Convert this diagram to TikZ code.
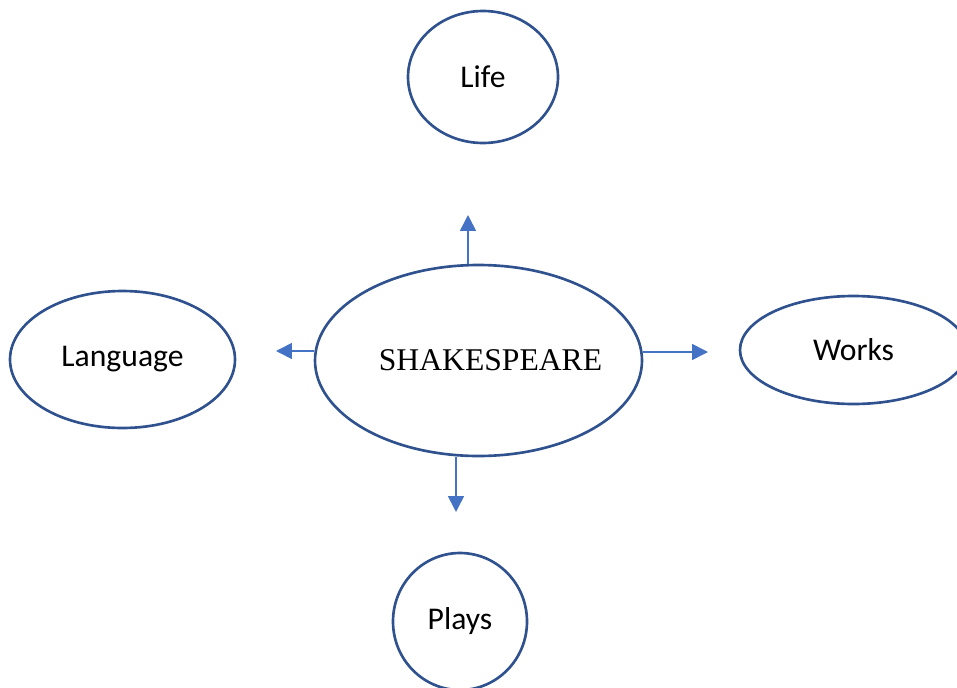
\documentclass[tikz,border=0pt]{standalone}
\usepackage{fontspec}
\setmainfont{Carlito}
\newfontfamily\timesfont{Liberation Serif}
\usetikzlibrary{shapes.geometric,arrows.meta}
\definecolor{ringblue}{HTML}{2F528F}
\definecolor{arrowblue}{HTML}{4472C4}
\begin{document}
\begin{tikzpicture}[scale=1,
		bubble/.style={draw=ringblue, line width=1.5pt, ellipse, inner sep=0pt, font=\fontsize{18}{21}\selectfont},
		arr/.style={draw=arrowblue, line width=0.9pt, -{Triangle[width=9pt,length=9pt]}, arrowblue}]
		\clip (0,0) rectangle (19.14,-13.74);
		\node[bubble, minimum width=3cm, minimum height=2.64cm] (Life) at (9.66,-1.54) {Life};
		\node[bubble, minimum width=6.54cm, minimum height=3.82cm, font=\timesfont\fontsize{18}{21}\selectfont] (Shakespeare) at (9.57,-7.21) {\makebox[0pt]{\hspace*{0.48cm}SHAKESPEARE}};
		\node[bubble, minimum width=4.5cm, minimum height=2.74cm] (Language) at (2.45,-7.19) {Language};
		\node[bubble, minimum width=4.54cm, minimum height=2.16cm] (Works) at (17.07,-7.0) {Works};
		\node[bubble, minimum width=2.68cm, minimum height=2.74cm] (Plays) at (9.2,-12.43) {Plays};
		% Arrow tips
		\coordinate (up tip) at (9.36,-4.3);
		\coordinate (left tip) at (5.52,-7.02);
		\coordinate (right tip) at (14.16,-7.04);
		\coordinate (down tip) at (9.12,-10.24);
		% Arrows
		\draw[arr] (Shakespeare.north -| up tip) -- (up tip);
		\draw[arr] (Shakespeare.west |- left tip) -- (left tip);
		\draw[arr] (Shakespeare.east |- right tip) -- (right tip);
		\draw[arr] (Shakespeare.south -| down tip) -- (down tip);
	\end{tikzpicture}
\end{document}
